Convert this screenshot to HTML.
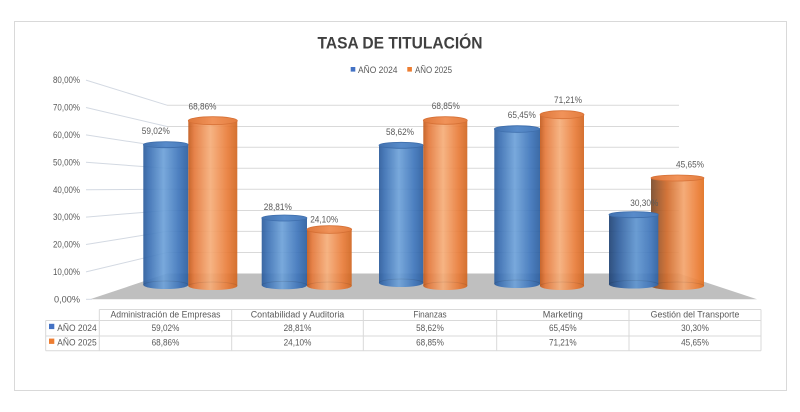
<!DOCTYPE html>
<html><head><meta charset="utf-8"><style>
html,body{margin:0;padding:0;background:#fff;}
svg{display:block;}
text{font-family:"Liberation Sans",Arial,sans-serif;}
</style></head><body>
<svg width="800" height="412" viewBox="0 0 800 412" xmlns="http://www.w3.org/2000/svg">
<defs>
<linearGradient id="gb" x1="0" y1="0" x2="1" y2="0">
<stop offset="0" stop-color="#2b5b9b"/><stop offset="0.12" stop-color="#3a6fb3"/><stop offset="0.45" stop-color="#6ea2d9"/><stop offset="0.8" stop-color="#3d74ba"/><stop offset="1" stop-color="#2c5e9f"/>
</linearGradient>
<linearGradient id="go" x1="0" y1="0" x2="1" y2="0">
<stop offset="0" stop-color="#c25a1c"/><stop offset="0.12" stop-color="#e4783a"/><stop offset="0.45" stop-color="#f6ae7a"/><stop offset="0.8" stop-color="#e97c39"/><stop offset="1" stop-color="#d16620"/>
</linearGradient>
<linearGradient id="gb5" x1="0" y1="0" x2="1" y2="0">
<stop offset="0" stop-color="#1f4274"/><stop offset="0.2" stop-color="#31609f"/><stop offset="0.55" stop-color="#5f95d0"/><stop offset="0.85" stop-color="#3e74b9"/><stop offset="1" stop-color="#2c5e9f"/>
</linearGradient>
<linearGradient id="go5" x1="0" y1="0" x2="1" y2="0">
<stop offset="0" stop-color="#7a4a2a"/><stop offset="0.3" stop-color="#d06a2a"/><stop offset="0.62" stop-color="#f4a56e"/><stop offset="0.88" stop-color="#ec7e36"/><stop offset="1" stop-color="#e0701f"/>
</linearGradient>
<linearGradient id="tb" x1="0" y1="0" x2="1" y2="0">
<stop offset="0" stop-color="#3366a9"/><stop offset="0.5" stop-color="#4a82c6"/><stop offset="1" stop-color="#3a70b5"/>
</linearGradient>
<linearGradient id="to" x1="0" y1="0" x2="1" y2="0">
<stop offset="0" stop-color="#dc6c2a"/><stop offset="0.5" stop-color="#f08a4c"/><stop offset="1" stop-color="#e2732f"/>
</linearGradient>
</defs>

<rect x="14.5" y="21.5" width="772" height="369" fill="#fff" stroke="#d9d9d9" stroke-width="1"/>

<!-- title -->
<text x="400" y="48.3" text-anchor="middle" font-size="17" font-weight="bold" fill="#404040" textLength="165" lengthAdjust="spacingAndGlyphs">TASA DE TITULACIÓN</text>

<!-- legend -->
<rect x="350.7" y="67" width="4.6" height="4.6" fill="#4472c4"/>
<text x="358" y="73" font-size="9" fill="#595959" textLength="39.5" lengthAdjust="spacingAndGlyphs">AÑO 2024</text>
<rect x="407.3" y="67" width="4.6" height="4.6" fill="#ed7d31"/>
<text x="415" y="73" font-size="9" fill="#595959" textLength="37" lengthAdjust="spacingAndGlyphs">AÑO 2025</text>

<!-- floor -->
<polygon points="90,299.3 167,273.5 679,273.5 757,299.3" fill="#bfbfbf"/>

<!-- grid back wall -->
<g stroke="#d9d9d9" stroke-width="1" fill="none">
<line x1="167" y1="252.5" x2="679" y2="252.5"/>
<line x1="167" y1="231.4" x2="679" y2="231.4"/>
<line x1="167" y1="210.5" x2="679" y2="210.5"/>
<line x1="167" y1="189.3" x2="679" y2="189.3"/>
<line x1="167" y1="168.3" x2="679" y2="168.3"/>
<line x1="167" y1="147.3" x2="679" y2="147.3"/>
<line x1="167" y1="126.5" x2="679" y2="126.5"/>
<line x1="167" y1="105.2" x2="679" y2="105.2"/>
</g>
<g stroke="#d3d9e2" stroke-width="1" fill="none">
<line x1="86" y1="271.9" x2="167" y2="252.5"/>
<line x1="86" y1="244.5" x2="167" y2="231.4"/>
<line x1="86" y1="217.1" x2="167" y2="210.5"/>
<line x1="86" y1="189.7" x2="167" y2="189.3"/>
<line x1="86" y1="162.3" x2="167" y2="168.3"/>
<line x1="86" y1="134.9" x2="167" y2="147.3"/>
<line x1="86" y1="107.5" x2="167" y2="126.5"/>
<line x1="86" y1="80.1" x2="167" y2="105.2"/>
<line x1="86" y1="299.3" x2="92" y2="299.3"/>
</g>

<!-- y labels -->
<g font-size="9" fill="#595959" text-anchor="end">
<text x="80" y="302.5" textLength="26" lengthAdjust="spacingAndGlyphs">0,00%</text>
<text x="80" y="275" textLength="27" lengthAdjust="spacingAndGlyphs">10,00%</text>
<text x="80" y="247.6" textLength="27" lengthAdjust="spacingAndGlyphs">20,00%</text>
<text x="80" y="220.2" textLength="27" lengthAdjust="spacingAndGlyphs">30,00%</text>
<text x="80" y="192.8" textLength="27" lengthAdjust="spacingAndGlyphs">40,00%</text>
<text x="80" y="165.4" textLength="27" lengthAdjust="spacingAndGlyphs">50,00%</text>
<text x="80" y="138" textLength="27" lengthAdjust="spacingAndGlyphs">60,00%</text>
<text x="80" y="110.6" textLength="27" lengthAdjust="spacingAndGlyphs">70,00%</text>
<text x="80" y="83.2" textLength="27" lengthAdjust="spacingAndGlyphs">80,00%</text>
</g>

<!-- cylinders -->
<g opacity="0.92">
<!-- G1 blue x143.3 w45 top141.7 bottom289 ry3 -->
<path d="M143.3,144.7 V285 A22.5,4 0 0 0 188.3,285 V144.7 Z" fill="url(#gb)"/>
<ellipse cx="165.8" cy="144.7" rx="22.5" ry="3" fill="url(#tb)" stroke="#2f63a6" stroke-width="0.8"/>
<path d="M143.3,285 A22.5,4 0 0 1 188.3,285" fill="none" stroke="rgba(0,0,0,0.12)" stroke-width="0.8"/>
<!-- G1 orange x188.3 w49 top116.7 bottom290 ry4 -->
<path d="M188.3,120.7 V286 A24.5,4 0 0 0 237.3,286 V120.7 Z" fill="url(#go)"/>
<ellipse cx="212.8" cy="120.7" rx="24.5" ry="4" fill="url(#to)" stroke="#d36525" stroke-width="0.8"/>
<path d="M188.3,286 A24.5,4 0 0 1 237.3,286" fill="none" stroke="rgba(0,0,0,0.1)" stroke-width="0.8"/>

<!-- G2 blue x261.7 w45.3 top215 bottom289.3 -->
<path d="M261.7,218 V285.3 A22.65,4 0 0 0 307,285.3 V218 Z" fill="url(#gb)"/>
<ellipse cx="284.35" cy="218" rx="22.65" ry="3" fill="url(#tb)" stroke="#2f63a6" stroke-width="0.8"/>
<path d="M261.7,285.3 A22.65,4 0 0 1 307,285.3" fill="none" stroke="rgba(0,0,0,0.12)" stroke-width="0.8"/>
<!-- G2 orange x307 w44.7 top225.7 bottom290 -->
<path d="M307,229.5 V286 A22.35,4 0 0 0 351.7,286 V229.5 Z" fill="url(#go)"/>
<ellipse cx="329.35" cy="229.5" rx="22.35" ry="3.8" fill="url(#to)" stroke="#d36525" stroke-width="0.8"/>
<path d="M307,286 A22.35,4 0 0 1 351.7,286" fill="none" stroke="rgba(0,0,0,0.1)" stroke-width="0.8"/>

<!-- G3 blue x379 w44.3 top142.3 bottom287 -->
<path d="M379,145.3 V283 A22.15,4 0 0 0 423.3,283 V145.3 Z" fill="url(#gb)"/>
<ellipse cx="401.15" cy="145.3" rx="22.15" ry="3" fill="url(#tb)" stroke="#2f63a6" stroke-width="0.8"/>
<path d="M379,283 A22.15,4 0 0 1 423.3,283" fill="none" stroke="rgba(0,0,0,0.12)" stroke-width="0.8"/>
<!-- G3 orange x423.3 w44 top116.7 bottom290 -->
<path d="M423.3,120.5 V286 A22,4 0 0 0 467.3,286 V120.5 Z" fill="url(#go)"/>
<ellipse cx="445.3" cy="120.5" rx="22" ry="3.8" fill="url(#to)" stroke="#d36525" stroke-width="0.8"/>
<path d="M423.3,286 A22,4 0 0 1 467.3,286" fill="none" stroke="rgba(0,0,0,0.1)" stroke-width="0.8"/>

<!-- G4 blue x494.3 w45.7 top125.7 bottom288 -->
<path d="M494.3,129 V284 A22.85,4 0 0 0 540,284 V129 Z" fill="url(#gb)"/>
<ellipse cx="517.15" cy="129" rx="22.85" ry="3.3" fill="url(#tb)" stroke="#2f63a6" stroke-width="0.8"/>
<path d="M494.3,284 A22.85,4 0 0 1 540,284" fill="none" stroke="rgba(0,0,0,0.12)" stroke-width="0.8"/>
<!-- G4 orange x540 w44 top110.7 bottom290 -->
<path d="M540,114.7 V286 A22,4 0 0 0 584,286 V114.7 Z" fill="url(#go)"/>
<ellipse cx="562" cy="114.7" rx="22" ry="4" fill="url(#to)" stroke="#d36525" stroke-width="0.8"/>
<path d="M540,286 A22,4 0 0 1 584,286" fill="none" stroke="rgba(0,0,0,0.1)" stroke-width="0.8"/>

<!-- G5 orange x651 w53 top175 bottom290 -->
<path d="M651,178 V286 A26.5,4 0 0 0 704,286 V178 Z" fill="url(#go5)"/>
<ellipse cx="677.5" cy="178" rx="26.5" ry="3" fill="url(#to)" stroke="#d36525" stroke-width="0.8"/>
<path d="M651,286 A26.5,4 0 0 1 704,286" fill="none" stroke="rgba(0,0,0,0.1)" stroke-width="0.8"/>
<!-- G5 blue x609 w49.3 top211.7 bottom288.5 -->
<path d="M609,214.7 V284.5 A24.65,4 0 0 0 658.3,284.5 V214.7 Z" fill="url(#gb5)"/>
<ellipse cx="633.65" cy="214.7" rx="24.65" ry="3" fill="url(#tb)" stroke="#2f63a6" stroke-width="0.8"/>
<path d="M609,284.5 A24.65,4 0 0 1 658.3,284.5" fill="none" stroke="rgba(0,0,0,0.12)" stroke-width="0.8"/>
</g>

<!-- value labels -->
<g font-size="9" fill="#595959" text-anchor="middle">
<text x="155.8" y="134" textLength="28" lengthAdjust="spacingAndGlyphs">59,02%</text>
<text x="202.5" y="109.5" textLength="28" lengthAdjust="spacingAndGlyphs">68,86%</text>
<text x="277.8" y="210" textLength="28" lengthAdjust="spacingAndGlyphs">28,81%</text>
<text x="324.2" y="222.3" textLength="28" lengthAdjust="spacingAndGlyphs">24,10%</text>
<text x="400" y="135" textLength="28" lengthAdjust="spacingAndGlyphs">58,62%</text>
<text x="445.8" y="109" textLength="28" lengthAdjust="spacingAndGlyphs">68,85%</text>
<text x="521.8" y="118" textLength="28" lengthAdjust="spacingAndGlyphs">65,45%</text>
<text x="568" y="103" textLength="28" lengthAdjust="spacingAndGlyphs">71,21%</text>
<text x="644.3" y="206" textLength="28" lengthAdjust="spacingAndGlyphs">30,30%</text>
<text x="690" y="167.5" textLength="28" lengthAdjust="spacingAndGlyphs">45,65%</text>
</g>

<!-- data table -->
<g stroke="#d9d9d9" stroke-width="1" fill="none">
<line x1="99.3" y1="309.5" x2="761" y2="309.5"/>
<line x1="45.7" y1="320.5" x2="761" y2="320.5"/>
<line x1="45.7" y1="336" x2="761" y2="336"/>
<line x1="45.7" y1="350.7" x2="761" y2="350.7"/>
<line x1="45.7" y1="320.5" x2="45.7" y2="350.7"/>
<line x1="99.3" y1="309.5" x2="99.3" y2="350.7"/>
<line x1="231.7" y1="309.5" x2="231.7" y2="350.7"/>
<line x1="363.3" y1="309.5" x2="363.3" y2="350.7"/>
<line x1="496.7" y1="309.5" x2="496.7" y2="350.7"/>
<line x1="629" y1="309.5" x2="629" y2="350.7"/>
<line x1="761" y1="309.5" x2="761" y2="350.7"/>
</g>
<g font-size="9" fill="#595959" text-anchor="middle">
<text x="165.5" y="317.3" textLength="110" lengthAdjust="spacingAndGlyphs">Administración de Empresas</text>
<text x="297.5" y="317.3" textLength="93.5" lengthAdjust="spacingAndGlyphs">Contabilidad y Auditoria</text>
<text x="430" y="317.3" textLength="33.3" lengthAdjust="spacingAndGlyphs">Finanzas</text>
<text x="562.8" y="317.3" textLength="40" lengthAdjust="spacingAndGlyphs">Marketing</text>
<text x="695" y="317.3" textLength="88.7" lengthAdjust="spacingAndGlyphs">Gestión del Transporte</text>

<text x="165.5" y="331" textLength="27.7" lengthAdjust="spacingAndGlyphs">59,02%</text>
<text x="297.5" y="331" textLength="27.7" lengthAdjust="spacingAndGlyphs">28,81%</text>
<text x="430" y="331" textLength="27.7" lengthAdjust="spacingAndGlyphs">58,62%</text>
<text x="562.8" y="331" textLength="27.7" lengthAdjust="spacingAndGlyphs">65,45%</text>
<text x="695" y="331" textLength="27.7" lengthAdjust="spacingAndGlyphs">30,30%</text>

<text x="165.5" y="345.7" textLength="27.7" lengthAdjust="spacingAndGlyphs">68,86%</text>
<text x="297.5" y="345.7" textLength="27.7" lengthAdjust="spacingAndGlyphs">24,10%</text>
<text x="430" y="345.7" textLength="27.7" lengthAdjust="spacingAndGlyphs">68,85%</text>
<text x="562.8" y="345.7" textLength="27.7" lengthAdjust="spacingAndGlyphs">71,21%</text>
<text x="695" y="345.7" textLength="27.7" lengthAdjust="spacingAndGlyphs">45,65%</text>
</g>
<rect x="49" y="323.8" width="5.3" height="5.3" fill="#4472c4"/>
<text x="57.3" y="331" font-size="9" fill="#595959" textLength="39.4" lengthAdjust="spacingAndGlyphs">AÑO 2024</text>
<rect x="49" y="338.6" width="5.3" height="5.3" fill="#ed7d31"/>
<text x="57.3" y="345.7" font-size="9" fill="#595959" textLength="39.4" lengthAdjust="spacingAndGlyphs">AÑO 2025</text>
</svg>
</body></html>
